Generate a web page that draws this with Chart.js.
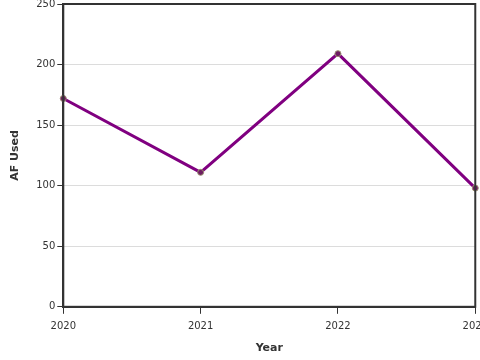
<!DOCTYPE html>
<html>
<head>
<meta charset="utf-8">
<script src="https://cdn.jsdelivr.net/npm/chart.js@4"></script>
<style>
  html, body { margin: 0; padding: 0; background: #fff; overflow: hidden; }
  #wrap { width: 495px; height: 366px; margin-top: -4px; }
</style>
</head>
<body>
<div id="wrap"><canvas id="afChart"></canvas></div>
<script>
// ── Data ──
const years  = ['2020', '2021', '2022', '2023'];
const afUsed = [172, 111, 209, 98];
const yTicks = [0, 50, 100, 150, 200, 250];

const INK = '#333';

// draws the dark frame around the plot area
const framePlugin = {
  id: 'frame',
  afterDraw(chart) {
    const { ctx, chartArea: a } = chart;
    ctx.save();
    ctx.strokeStyle = INK;
    ctx.lineWidth = 2;
    ctx.strokeRect(a.left, a.top, a.right - a.left, a.bottom - a.top);
    ctx.restore();
  }
};

new Chart(document.getElementById('afChart'), {
  type: 'line',
  data: {
    labels: years,
    datasets: [{
      label: 'AF Used',
      data: afUsed,
      borderColor: '#800080',
      borderWidth: 3,
      tension: 0,
      pointRadius: 3,
      pointBackgroundColor: '#6e1d62',
      pointBorderColor: '#9a9070',
      pointBorderWidth: 1
    }]
  },
  options: {
    responsive: true,
    maintainAspectRatio: false,
    animation: false,
    layout: { padding: { top: 0, right: 0, left: 5, bottom: 3 } },
    plugins: { legend: { display: false }, tooltip: { enabled: false } },
    scales: {
      x: {
        offset: false,
        grid: { drawOnChartArea: false, tickColor: INK, tickLength: 7 },
        border: { color: INK, width: 2 },
        ticks: { color: INK, font: { family: 'DejaVu Sans', size: 10 }, maxRotation: 0, padding: 7 },
        title: { display: true, text: 'Year', color: INK,
                 font: { family: 'DejaVu Sans', size: 11, weight: 'bold' }, padding: { top: 2 } }
      },
      y: {
        min: 0,
        max: 250,
        afterBuildTicks: axis => { axis.ticks = yTicks.map(v => ({ value: v })); },
        grid: { color: '#dcdcdc', tickColor: INK, tickLength: 6 },
        border: { color: INK, width: 2 },
        ticks: { color: INK, font: { family: 'DejaVu Sans', size: 10 }, padding: 2 },
        title: { display: true, text: 'AF Used', color: INK,
                 font: { family: 'DejaVu Sans', size: 11, weight: 'bold' }, padding: { bottom: 12 } }
      }
    }
  },
  plugins: [framePlugin]
});
</script>
</body>
</html>
